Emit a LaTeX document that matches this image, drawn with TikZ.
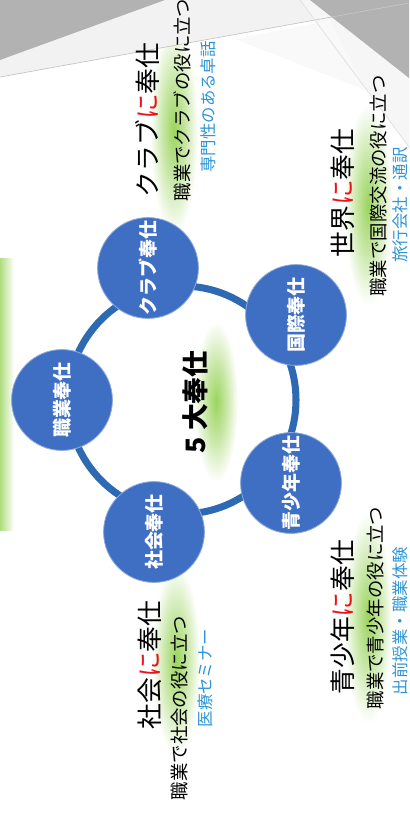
\documentclass[tikz,border=0pt]{standalone}
\usepackage{fontspec}
\newfontfamily\jp{Noto Sans CJK JP}
\usepackage{xcolor}
\usepackage{tikz}
\usetikzlibrary{backgrounds}
\definecolor{svcblue}{HTML}{3F6FC3}
\definecolor{ringblue}{HTML}{2E69B3}
\definecolor{nired}{HTML}{E8141B}
\definecolor{exblue}{HTML}{2E95D3}
\definecolor{glowgreen}{HTML}{9BD45E}
\pgfdeclareradialshading{glow}{\pgfpointorigin}{color(0bp)=(glowgreen); color(12bp)=(glowgreen!55!white); color(25bp)=(white); color(50bp)=(white)}
\newcommand{\redni}{{\color{nired}に}}

\begin{document}
\begin{tikzpicture}[x=0.025cm, y=-0.025cm,
  svc/.style={circle, fill=svcblue, draw=svcblue!60!white, line width=0.6pt,
    minimum size=2.52cm, inner sep=0pt, text=white, rotate=90,
    font=\jp\bfseries\fontsize{13.5pt}{15pt}\selectfont},
  ring/.style={draw=ringblue, line width=5pt},
  ttl/.style={rotate=90, inner sep=0pt, font=\jp\fontsize{18.3pt}{20pt}\selectfont},
  sub/.style={rotate=90, inner sep=0pt, font=\jp\fontsize{13.1pt}{15pt}\selectfont},
  ex/.style={rotate=90, inner sep=0pt, text=exblue, font=\jp\fontsize{11.7pt}{13pt}\selectfont},
  halo/.style={shading=glow}]

\useasboundingbox (0,0) rectangle (409,820);

% glows behind the texts
\shade[halo] (216,402) ellipse (22 and 80);
\shade[halo] (174,130) ellipse (24 and 105);
\shade[halo] (368,205) ellipse (24 and 100);
\shade[halo] (368,618) ellipse (24 and 105);
\shade[halo] (176,660) ellipse (24 and 95);
\shade[left color=glowgreen!80!white, right color=white] (0,258) rectangle (14,530);

% slide corner
\fill[gray!10] (0,60) -- (165,0) -- (409,0) -- (409,3) -- (0,77) -- cycle;
\fill[gray!7] (300,0) -- (310,0) -- (409,78) -- (409,147) -- cycle;
\fill[gray!5] (235,39) -- (330,20) -- (365,90) -- cycle;
\fill[gray!60] (0,0) -- (165,0) -- (0,60) -- cycle;
\fill[gray!60] (310,0) -- (409,0) -- (409,78) -- cycle;
\draw[gray!45, line width=0.5pt] (0,77) -- (409,3);
\draw[gray!25, line width=0.5pt] (300,0) -- (409,147);

% five services
\coordinate (hub) at (182,400);
\node[svc] (shokugyo) at (62,400) {職業奉仕};
\node[svc] (club) at (148,268) {クラブ奉仕};
\node[svc] (kokusai) at (296,315) {国際奉仕};
\node[svc] (seishonen) at (291,483) {青少年奉仕};
\node[svc] (shakai) at (154,532) {社会奉仕};

% ring behind the circles
\begin{pgfonlayer}{background}
\draw[ring] (hub) circle (114);
\end{pgfonlayer}

\node[rotate=90, font=\jp\bfseries\fontsize{19pt}{21pt}\selectfont] (title) at (195,402) {5 大奉仕};

% club
\node[ttl] (clubttl) at (147,120) {クラブ\redni 奉仕};
\node[sub] (clubsub) at (182,100) {職業でクラブの役に立つ};
\node[ex] (clubex) at (208,107) {専門性のある卓話};

% world
\node[ttl] (worldttl) at (343,193) {世界\redni 奉仕};
\node[sub] (worldsub) at (379,186) {職業で国際交流の役に立つ};
\node[ex] (worldex) at (400,205) {旅行会社・通訳};

% youth
\node[ttl] (youthttl) at (343,617) {青少年\redni 奉仕};
\node[sub] (youthsub) at (375,608) {職業で青少年の役に立つ};
\node[ex] (youthex) at (400,621) {出前授業・職業体験};

% society
\node[ttl] (socttl) at (150,665) {社会\redni 奉仕};
\node[sub] (socsub) at (180,708) {職業で社会の役に立つ};
\node[ex] (socex) at (205,678) {医療セミナー};

\end{tikzpicture}
\end{document}
